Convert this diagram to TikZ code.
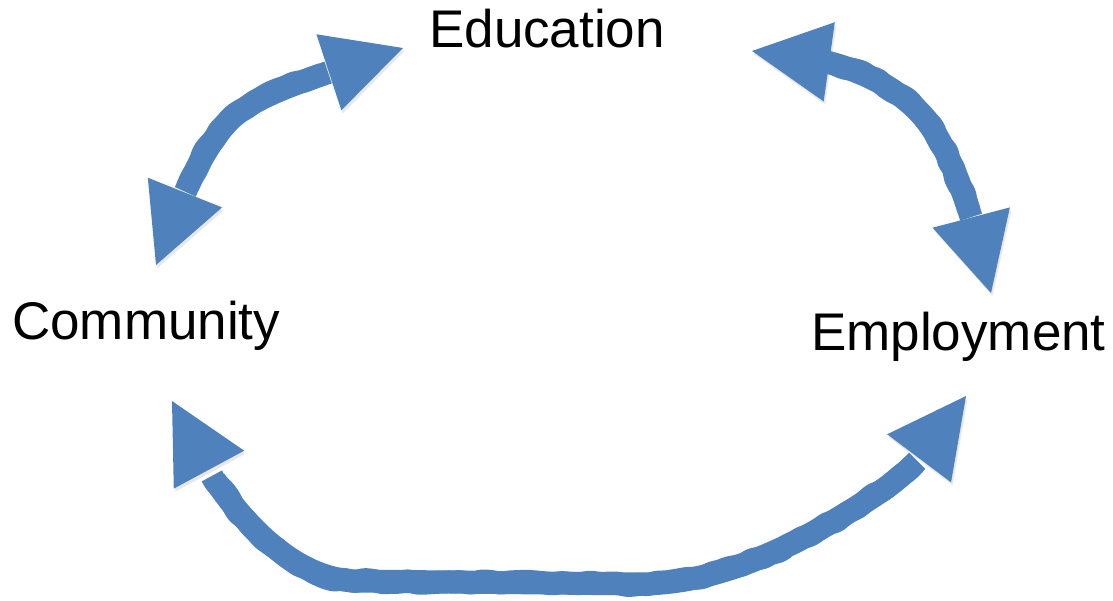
\documentclass[tikz,border=0pt]{standalone}
\usepackage{fontspec}
\setmainfont{Liberation Sans}
\usetikzlibrary{arrows.meta,bending,decorations.pathmorphing}
\definecolor{linkblue}{RGB}{79,129,189}

\begin{document}
\begin{tikzpicture}[x=1pt,y=-1pt,
  word/.style={anchor=base west,inner sep=0pt,font=\fontsize{53}{63}\selectfont},
  linkwobble/.style={-,draw=linkblue,line width=23pt,line join=round,rounded corners=3pt,decorate,
    decoration={random steps,segment length=9pt,amplitude=1.8pt,pre=moveto,pre length=85pt,post=moveto,post length=85pt}},
  linkshadow/.style={draw=black!9,transform canvas={shift={(1.5,3)}}},
  linkarrow/.style={draw=linkblue,line width=23pt,
    {Triangle[length=78pt,width=80pt,line width=0pt]}-{Triangle[length=78pt,width=80pt,line width=0pt]},
    preaction={linkshadow},postaction={linkwobble}}]
\path[use as bounding box] (0,0) rectangle (1113,601);
\pgfmathsetseed{7}
% the three words
\node[word] (edu) at (429,48) {Education};
\node[word] (com) at (12,340) {Community};
\node[word] (emp) at (811,350) {Employment};
% arrow tips
\coordinate (com-up) at (156,265);
\coordinate (edu-left) at (403,48);
\coordinate (edu-right) at (752,51);
\coordinate (emp-up) at (991,293);
\coordinate (com-down) at (172,401);
\coordinate (emp-down) at (966,396);
% the loop of arrows
\draw[linkarrow] (com-up) .. controls (175,215) and (195,160) .. (225,125)
  .. controls (255,90) and (335,72) .. (edu-left);
\draw[linkarrow] (edu-right) .. controls (830,56) and (880,75) .. (915,108)
  .. controls (950,141) and (975,220) .. (emp-up);
\draw[linkarrow] (com-down) .. controls (200,470) and (270,578) .. (355,581)
  -- (640,584) .. controls (720,584) and (800,545) .. (880,492)
  .. controls (920,465) and (945,430) .. (emp-down);
\end{tikzpicture}
\end{document}
